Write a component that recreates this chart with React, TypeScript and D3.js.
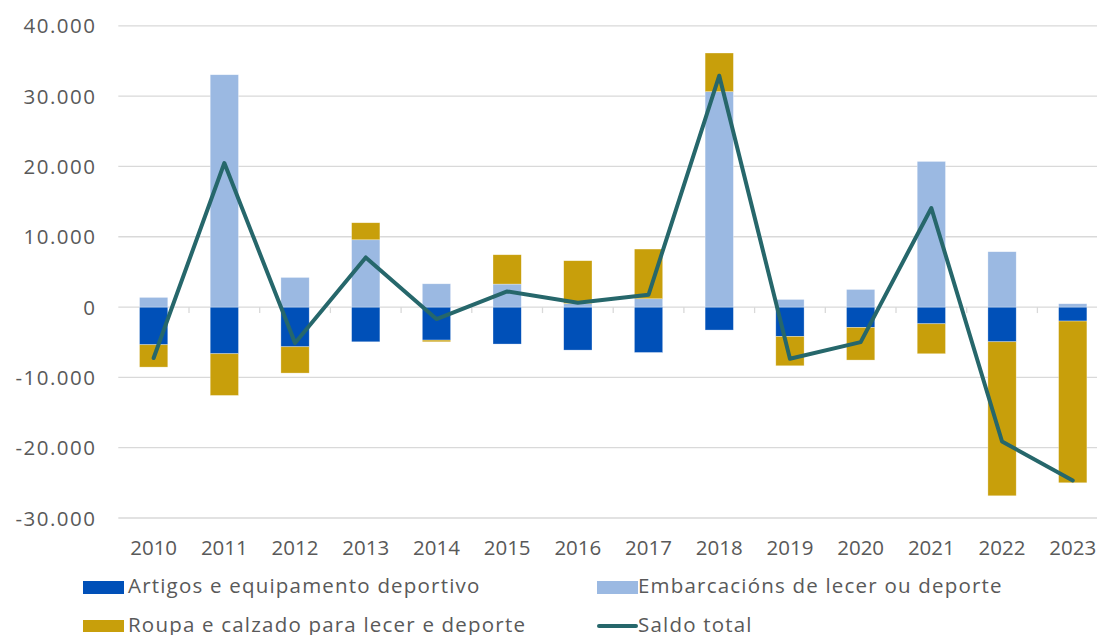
import React from "react";
import * as d3 from "d3";

const years = ["2010","2011","2012","2013","2014","2015","2016","2017","2018","2019","2020","2021","2022","2023"];
const artigos = [-5360,-6640,-5650,-4940,-4700,-5260,-6120,-6460,-3270,-4180,-2900,-2380,-4940,-1990];
const embarcacions = [1370,33040,4210,9570,3310,3270,500,1180,30630,1080,2500,20710,7870,470];
const roupa = [-3180,-5930,-3740,2420,-240,4170,6090,7070,5500,-4170,-4640,-4260,-21900,-23000];
const saldo = [-7250,20480,-5120,7060,-1710,2220,600,1750,32900,-7350,-4980,14080,-19120,-24670];
const yTicks = [-30000,-20000,-10000,0,10000,20000,30000,40000];

const seriesKeys = ["artigos","embarcacions","roupa"];
const seriesNames = ["Artigos e equipamento deportivo","Embarcacións de lecer ou deporte","Roupa e calzado para lecer e deporte"];
const colors: Record<string,string> = { artigos: "#0050B8", embarcacions: "#9BB9E2", roupa: "#C89F0B" };
const lineColor = "#26676B";
const font = "'Open Sans', sans-serif";
const textColor = "#595959";

export default function App() {
  const W = 1097, H = 635;
  const x = d3.scaleBand<string>().domain(years).range([118.3, 1108.1]).paddingInner(0.6).paddingOuter(0.3);
  const y = d3.scaleLinear().domain([-30000, 40000]).range([518, 25.8]);
  const step = x.step();
  const rows = years.map((yr, i) => ({ year: yr, artigos: artigos[i], embarcacions: embarcacions[i], roupa: roupa[i] }));
  const stacked = d3.stack<any>().keys(seriesKeys).offset(d3.stackOffsetDiverging)(rows);
  const cx = (yr: string) => (x(yr) as number) + x.bandwidth() / 2;
  const line = d3.line<number>().x((_, i) => cx(years[i])).y(d => y(d));
  const fmt = (v: number) => d3.format(",")(v).replace(/,/g, ".").replace("\u2212", "-");

  return (
    <svg width={W} height={H} style={{ position: "absolute", left: 0, top: 0, background: "#fff" }}>
      {yTicks.map(t => (
        <g key={t}>
          <line x1={118.3} x2={W} y1={y(t)} y2={y(t)} stroke="#D9D9D9" strokeWidth={1.3} />
          <text x={96.5} y={y(t) + 7.5} textAnchor="end" fontFamily={font} fontSize={20.5} letterSpacing={1.5} fill={textColor}>{fmt(t)}</text>
        </g>
      ))}
      {years.map((yr, i) => (
        <line key={"tk" + yr} x1={118.3 + step * (i + 1)} x2={118.3 + step * (i + 1)} y1={y(0)} y2={y(0) + 6} stroke="#D9D9D9" strokeWidth={1.3} />
      ))}
      {stacked.map(s => (
        <g key={s.key} fill={colors[s.key]}>
          {s.map((d, i) => (
            <rect key={i} x={x(years[i])} width={x.bandwidth()} y={y(Math.max(d[0], d[1]))}
              height={Math.abs(y(d[0]) - y(d[1]))} stroke="#ffffff" strokeOpacity={0.5} strokeWidth={0.6} />
          ))}
        </g>
      ))}
      <path d={line(saldo) || ""} fill="none" stroke={lineColor} strokeWidth={4} strokeLinejoin="round" strokeLinecap="round" />
      {years.map(yr => (
        <text key={"xl" + yr} x={cx(yr)} y={555} textAnchor="middle" fontFamily={font} fontSize={20.5} fill={textColor}>{yr}</text>
      ))}
      <g fontFamily={font} fontSize={20.5} fill={textColor} letterSpacing={1.2}>
        <rect x={83} y={581} width={41} height={13} fill={colors.artigos} />
        <text x={128} y={593}>{seriesNames[0]}</text>
        <rect x={597} y={581} width={41} height={13} fill={colors.embarcacions} />
        <text x={638} y={593}>{seriesNames[1]}</text>
        <rect x={83} y={620} width={41} height={12} fill={colors.roupa} />
        <text x={128} y={632}>{seriesNames[2]}</text>
        <line x1={599} x2={636} y1={626} y2={626} stroke={lineColor} strokeWidth={4} strokeLinecap="round" />
        <text x={638} y={632}>Saldo total</text>
      </g>
    </svg>
  );
}
